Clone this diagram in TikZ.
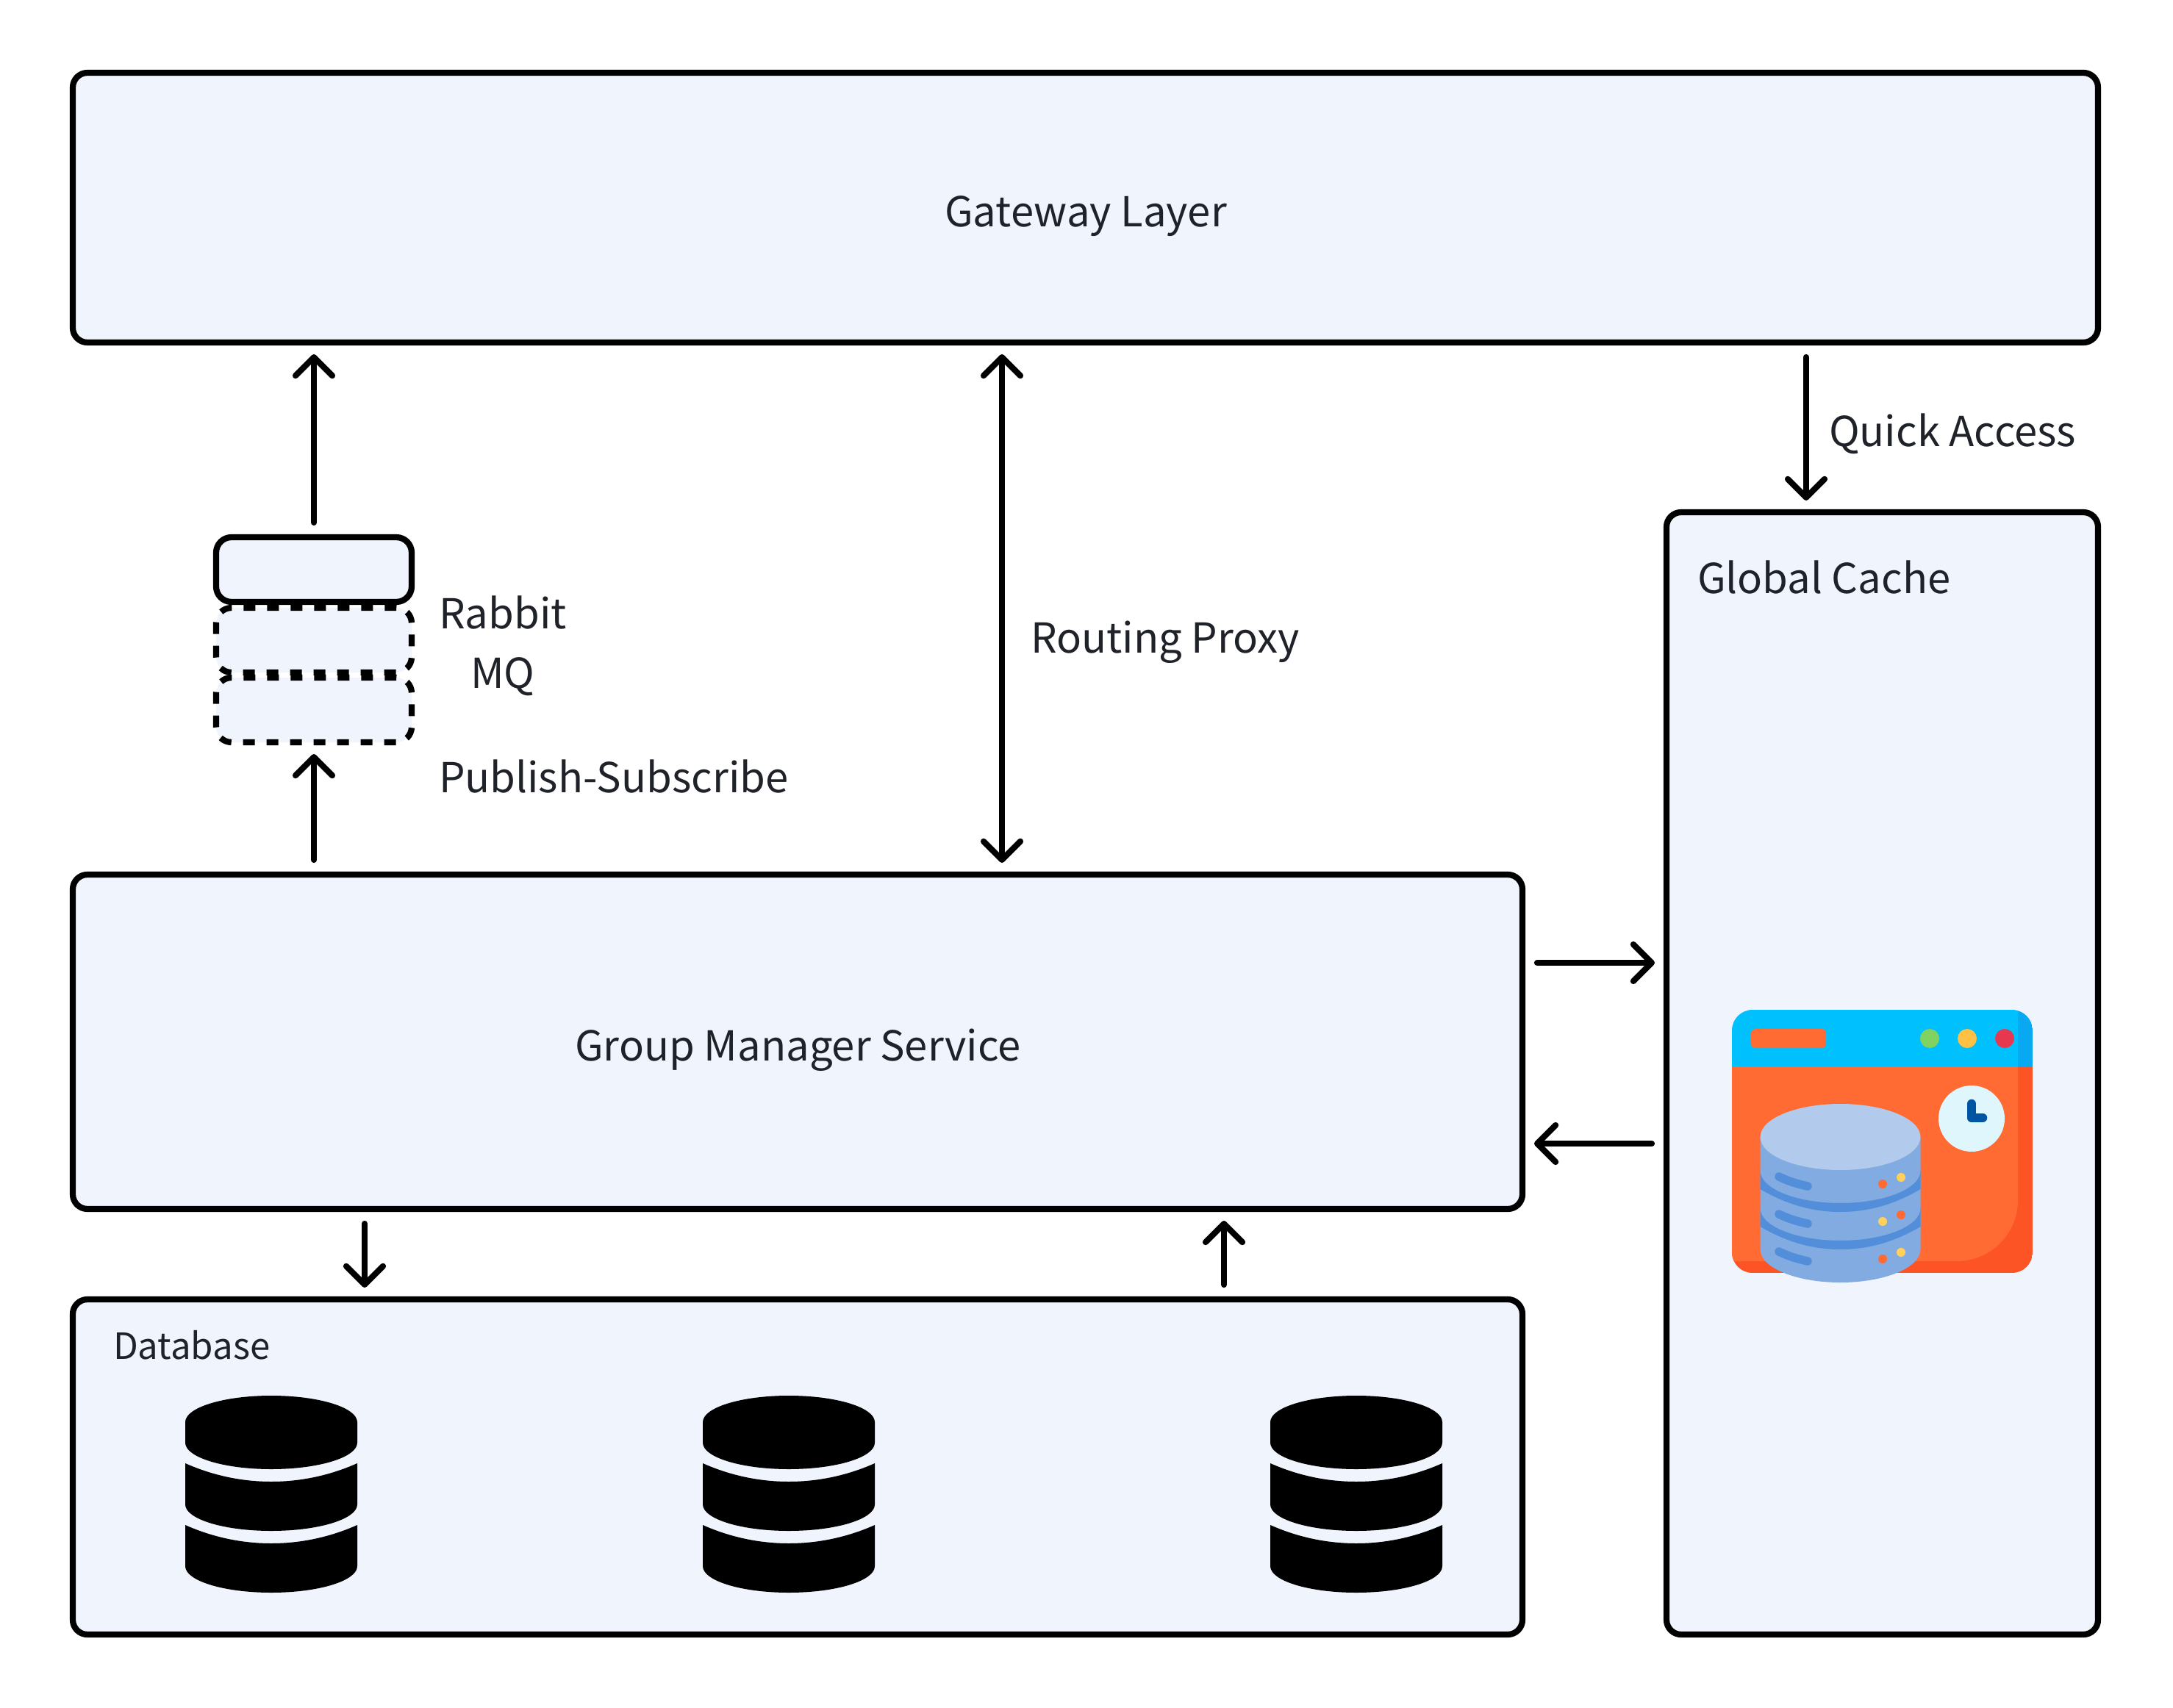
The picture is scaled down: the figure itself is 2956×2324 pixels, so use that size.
\documentclass[tikz,border=0pt]{standalone}
\usepackage{fontspec}
\setmainfont{Noto Sans CJK SC}
\usetikzlibrary{arrows.meta}
\definecolor{panel}{HTML}{F0F4FD}
\definecolor{ink}{HTML}{1F2329}
\definecolor{winblue}{HTML}{00C0FD}
\definecolor{winblued}{HTML}{08A9F1}
\definecolor{winor}{HTML}{FF6B33}
\definecolor{winord}{HTML}{FD5426}
\definecolor{cyltop}{HTML}{B2CAEB}
\definecolor{cylbody}{HTML}{82ABE1}
\definecolor{cylband}{HTML}{528ED9}
\definecolor{dotyel}{HTML}{FFD15B}
\definecolor{dotgreen}{HTML}{80D261}
\definecolor{dotamber}{HTML}{FFC144}
\definecolor{dotred}{HTML}{E63950}
\definecolor{clockface}{HTML}{DFF6FD}
\definecolor{clockhand}{HTML}{0055A3}
\def\pxu{0.02cm}
\tikzset{
  x=0.02cm,y=-0.02cm,
  box/.style={draw=black,fill=panel,line width=0.165cm,rounded corners=0.4cm,inner sep=0pt,outer sep=0pt},
  qbox/.style={draw=black,fill=panel,line width=0.165cm,rounded corners=0.42cm,inner sep=0pt,outer sep=0pt},
  qfill/.style={fill=panel,rounded corners=0.42cm,inner sep=0pt,outer sep=0pt},
  qdash/.style={draw=black,line width=0.165cm,rounded corners=0.42cm,dash pattern=on 0.32cm off 0.32cm},
  lab/.style={inner sep=0pt,outer sep=0pt,text=ink,font=\fontsize{32}{40}\selectfont},
  barb/.tip={Straight Barb[length=0.5cm,width=1.0cm,round]},
  arr/.style={draw=black,line width=0.165cm,line cap=round,line join=round,-barb},
  darr/.style={arr,barb-barb},
  gap/.style={shorten >=0.32cm,shorten <=0.40cm},
  dgap/.style={shorten >=0.32cm,shorten <=0.32cm},
}
\begin{document}
\begin{tikzpicture}
\useasboundingbox (0,0) rectangle (2956,2324);
\fill[white] (0,0) rectangle (2956,2324);

% main boxes
\node[box,minimum width=2755*\pxu,minimum height=367*\pxu] (gw) at (1476.5,282.5) {};
\node[box,minimum width=1972*\pxu,minimum height=455*\pxu] (gm) at (1085,1417.5) {};
\node[box,minimum width=1972*\pxu,minimum height=456*\pxu] (db) at (1085,1996) {};
\node[box,minimum width=587*\pxu,minimum height=1527*\pxu] (gc) at (2560.5,1460.5) {};

% queue
\node[qfill,minimum width=266*\pxu,minimum height=88*\pxu] (q3) at (427,966) {};
\node[qfill,minimum width=266*\pxu,minimum height=88*\pxu] (q2) at (427,871) {};
\coordinate (q2s) at (331.3,827);
\coordinate (q3s) at (331.3,922);
\draw[qdash] (q3s) -- (q3.north east) -- (q3.south east) -- (q3.south west) -- (q3.north west) -- (q3s);
\draw[qdash] (q2s) -- (q2.north east) -- (q2.south east) -- (q2.south west) -- (q2.north west) -- (q2s);
\node[qbox,minimum width=266*\pxu,minimum height=88*\pxu] (q1) at (427,775) {};

% labels
\node[lab] (lgw) at (1477,294) {Gateway Layer};
\node[lab] (lgm) at (1085.5,1428.5) {Group Manager Service};
\node[lab,anchor=west] (lq) at (2488,590) {Quick Access};
\node[lab,anchor=west] (lg) at (2309,785) {Global Cache};
\node[lab,align=center,font=\fontsize{32}{46}\selectfont] (lr) at (684,879) {Rabbit\\MQ};
\node[lab,anchor=west] (lp) at (1402,874) {Routing Proxy};
\node[lab,anchor=west] (ls) at (597,1056) {Publish-Subscribe};
\node[lab,anchor=west,font=\fontsize{28}{34}\selectfont] (ld) at (154,1830) {Database};

% connectors
\coordinate (xd) at (1363,0);
\coordinate (xq) at (2457,0);
\coordinate (yr) at (0,1310);
\coordinate (yl) at (0,1556);
\coordinate (xdn) at (496,0);
\coordinate (xup) at (1665,0);
\draw[arr,gap] (q1.north) -- (q1.north |- gw.south);
\draw[arr,gap] (q3.south |- gm.north) -- (q3.south);
\draw[darr,dgap] (xd |- gw.south) -- (xd |- gm.north);
\draw[arr,gap] (xq |- gw.south) -- (xq |- gc.north);
\draw[arr,gap] (gm.east |- yr) -- (gc.west |- yr);
\draw[arr,gap] (gc.west |- yl) -- (gm.east |- yl);
\draw[arr,gap] (xdn |- gm.south) -- (xdn |- db.north);
\draw[arr,gap] (xup |- db.north) -- (xup |- gm.south);

% database glyphs
\foreach \dx in {0,704,1476} {
  \begin{scope}[shift={(\dx,0)}]
    \fill[black] (252,1935) arc[start angle=180,end angle=360,x radius=117,y radius=36]
      -- (486,1963) arc[start angle=0,end angle=180,x radius=117,y radius=36] -- cycle;
    \fill[black] (252,1991) .. controls (290,2008) and (330,2016) .. (369,2016)
      .. controls (408,2016) and (448,2008) .. (486,1991)
      -- (486,2047) arc[start angle=0,end angle=180,x radius=117,y radius=36] -- cycle;
    \fill[black] (252,2075) .. controls (290,2092) and (330,2100) .. (369,2100)
      .. controls (408,2100) and (448,2092) .. (486,2075)
      -- (486,2131) arc[start angle=0,end angle=180,x radius=117,y radius=36] -- cycle;
  \end{scope}
}

% cache illustration
\begin{scope}
  \clip[rounded corners=0.56cm] (2356,1374) rectangle (2765,1732);
  \fill[winord] (2356,1451) rectangle (2765,1732);
  \fill[winblue] (2356,1374) rectangle (2745,1451);
  \fill[winblued] (2745,1374) rectangle (2765,1451);
  \fill[winor] (2356,1451) -- (2745,1451) -- (2745,1633)
    arc[start angle=0,end angle=90,radius=83] -- (2356,1716) -- cycle;
\end{scope}
\fill[winor,rounded corners=0.12cm] (2382,1400) rectangle (2484,1426);
\fill[dotgreen] (2625,1413) circle[radius=13];
\fill[dotamber] (2676,1413) circle[radius=13];
\fill[dotred] (2727,1413) circle[radius=13];
\fill[clockface] (2682,1522) circle[radius=45];
\draw[clockhand,line width=0.25cm,line cap=round,line join=round] (2682,1502) -- (2682,1521) -- (2697,1521);
% cylinder
\fill[cylbody] (2394.5,1547) -- (2394.5,1700) arc[start angle=180,end angle=0,x radius=109,y radius=45] -- (2612.5,1547) -- cycle;
\fill[cylband] (2394.5,1593) arc[start angle=180,end angle=0,x radius=109,y radius=44]
  -- (2612.5,1618) .. controls (2580,1637) and (2545,1649) .. (2503.5,1649)
  .. controls (2462,1649) and (2427,1637) .. (2394.5,1618) -- cycle;
\fill[cylband] (2394.5,1644) arc[start angle=180,end angle=0,x radius=109,y radius=44]
  -- (2612.5,1669) .. controls (2580,1688) and (2545,1700) .. (2503.5,1700)
  .. controls (2462,1700) and (2427,1688) .. (2394.5,1669) -- cycle;
\fill[cyltop] (2503.5,1547) ellipse[x radius=109,y radius=45];
\foreach \dy in {0,51,102} {
  \draw[cylband,line width=0.23cm,line cap=round] (2420,1601+\dy) .. controls (2432,1607+\dy) and (2445,1611+\dy) .. (2459,1614+\dy);
}
\foreach \px/\py/\pc in {2561/1611/winor,2586/1602/dotyel,2561/1662/dotyel,2586/1653/winor,2561/1713/winor,2586/1704/dotyel} {
  \fill[\pc] (\px,\py) circle[radius=6];
}
\end{tikzpicture}
\end{document}
